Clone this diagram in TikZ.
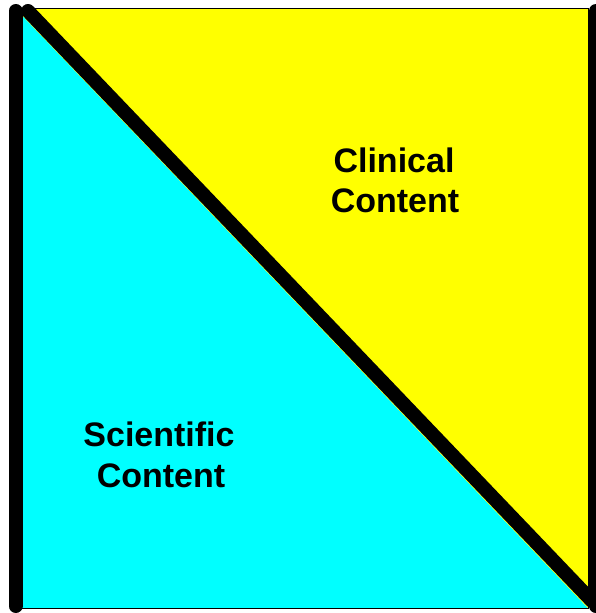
\documentclass[tikz,border=0pt]{standalone}
\usepackage{fontspec}
\setmainfont{Liberation Sans}
\definecolor{cyanfill}{RGB}{0,255,255}
\definecolor{yellowfill}{RGB}{255,255,0}
\begin{document}
\begin{tikzpicture}[x=1pt,y=-1pt,
  thickline/.style={line width=14pt,line cap=round,black},
  thinline/.style={line width=1pt,black},
  label/.style={font=\fontsize{34}{40}\selectfont\bfseries,anchor=base,inner sep=0pt}]
\useasboundingbox (0,0) rectangle (595,613);
\fill[white] (0,0) rectangle (595,613);
% corners
\coordinate (tl) at (15,8);
\coordinate (tr) at (588,8);
\coordinate (br) at (588,608);
\coordinate (bl) at (15,608);
\fill[cyanfill] (tl) -- (br) -- (bl) -- cycle;
\fill[yellowfill] (tl) -- (tr) -- (br) -- cycle;
\draw[thinline] (tl) rectangle (br);
% thick lines
\coordinate (ls) at (15.5,11);
\coordinate (le) at (15.5,606);
\coordinate (ds) at (28,11);
\coordinate (de) at (592,601);
\coordinate (rs) at (596,11);
\coordinate (re) at (596,606);
\draw[thickline] (ls) -- (le);
\draw[thickline] (ds) -- (de);
\draw[thickline] (rs) -- (re);
% labels
\node[label] (c1) at (394,172) {Clinical};
\node[label] (c2) at (395,212) {Content};
\node[label] (s1) at (159,446) {Scientific};
\node[label] (s2) at (161,487) {Content};
\end{tikzpicture}
\end{document}
